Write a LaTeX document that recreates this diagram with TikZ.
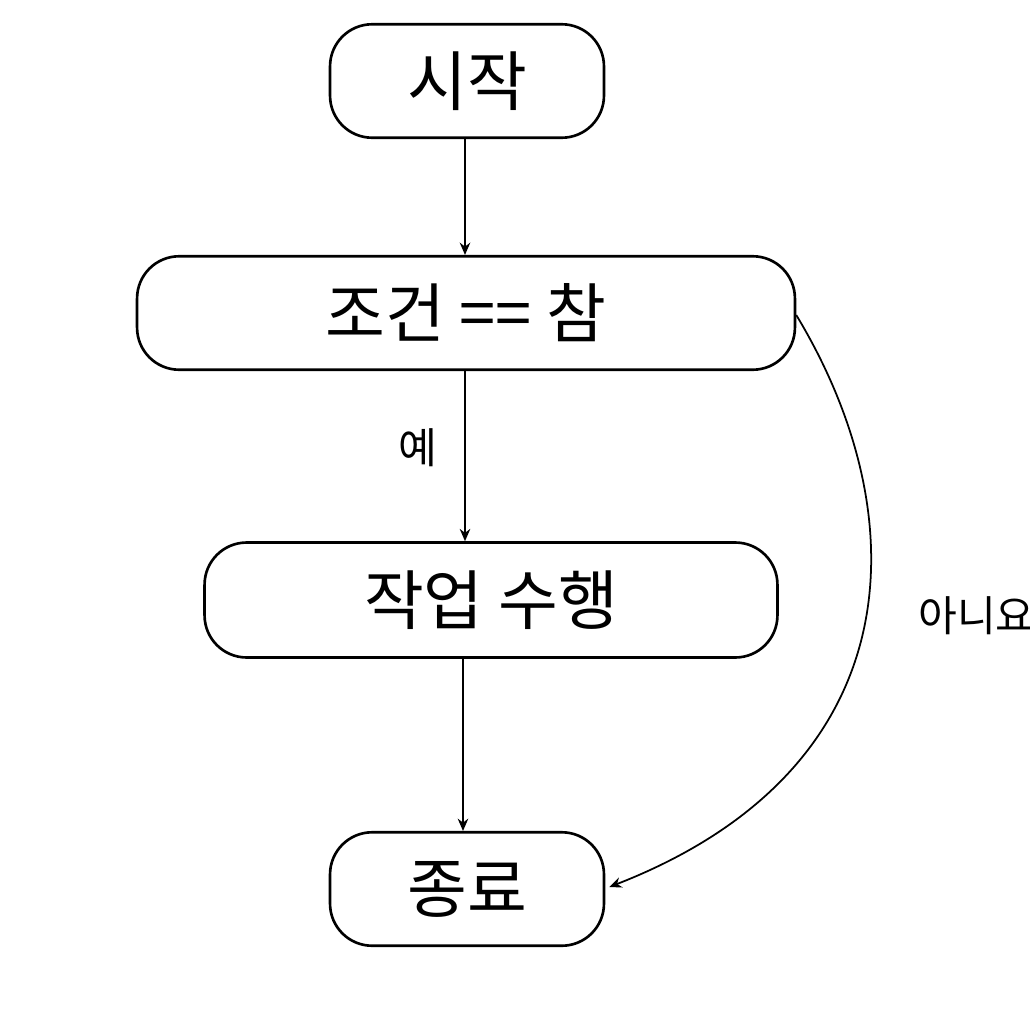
\documentclass[tikz,border=0pt]{standalone}
\usepackage{fontspec}
\setmainfont{Noto Sans CJK KR}
\usetikzlibrary{arrows.meta, positioning, calc}

\begin{document}
\begin{tikzpicture}[
  x=0.02cm, y=-0.02cm,
  font=\fontsize{37}{42}\selectfont,
  box/.style={draw, line width=1.5pt, rounded corners=24pt, inner sep=0pt, fill=white, minimum height=2.27cm},
  lbl/.style={font=\fontsize{24}{28}\selectfont},
  arrow/.style={-{Stealth[length=7pt, width=6pt]}, line width=1pt}
]
\useasboundingbox (0,0) rectangle (1030,1024);

% NODES
\node[box, minimum width=5.48cm] (start) at (467,81) {시작};
\node[box, minimum width=13.16cm] (cond) at (466,313) {조건 == 참};
\node[box, minimum width=11.46cm, minimum height=2.3cm] (task) at (491,600) {작업 수행};
\node[box, minimum width=5.48cm] (end) at (467,889) {종료};

% CONNECTORS
\draw[arrow] (start.south -| 465,0) -- (cond.north -| 465,0);
\draw[arrow] (cond.south -| 465,0) -- node[lbl, left=12pt, pos=0.45] {예} (task.north -| 465,0);
\draw[arrow] (task.south -| 463,0) -- (end.north -| 463,0);
\draw[arrow] ($(cond.east)+(0,2)$) .. controls (920,520) and (910,770) .. ($(end.east)+(4,-2)$)
  node[lbl, pos=0.47, right=26pt] {아니요};
\end{tikzpicture}
\end{document}
